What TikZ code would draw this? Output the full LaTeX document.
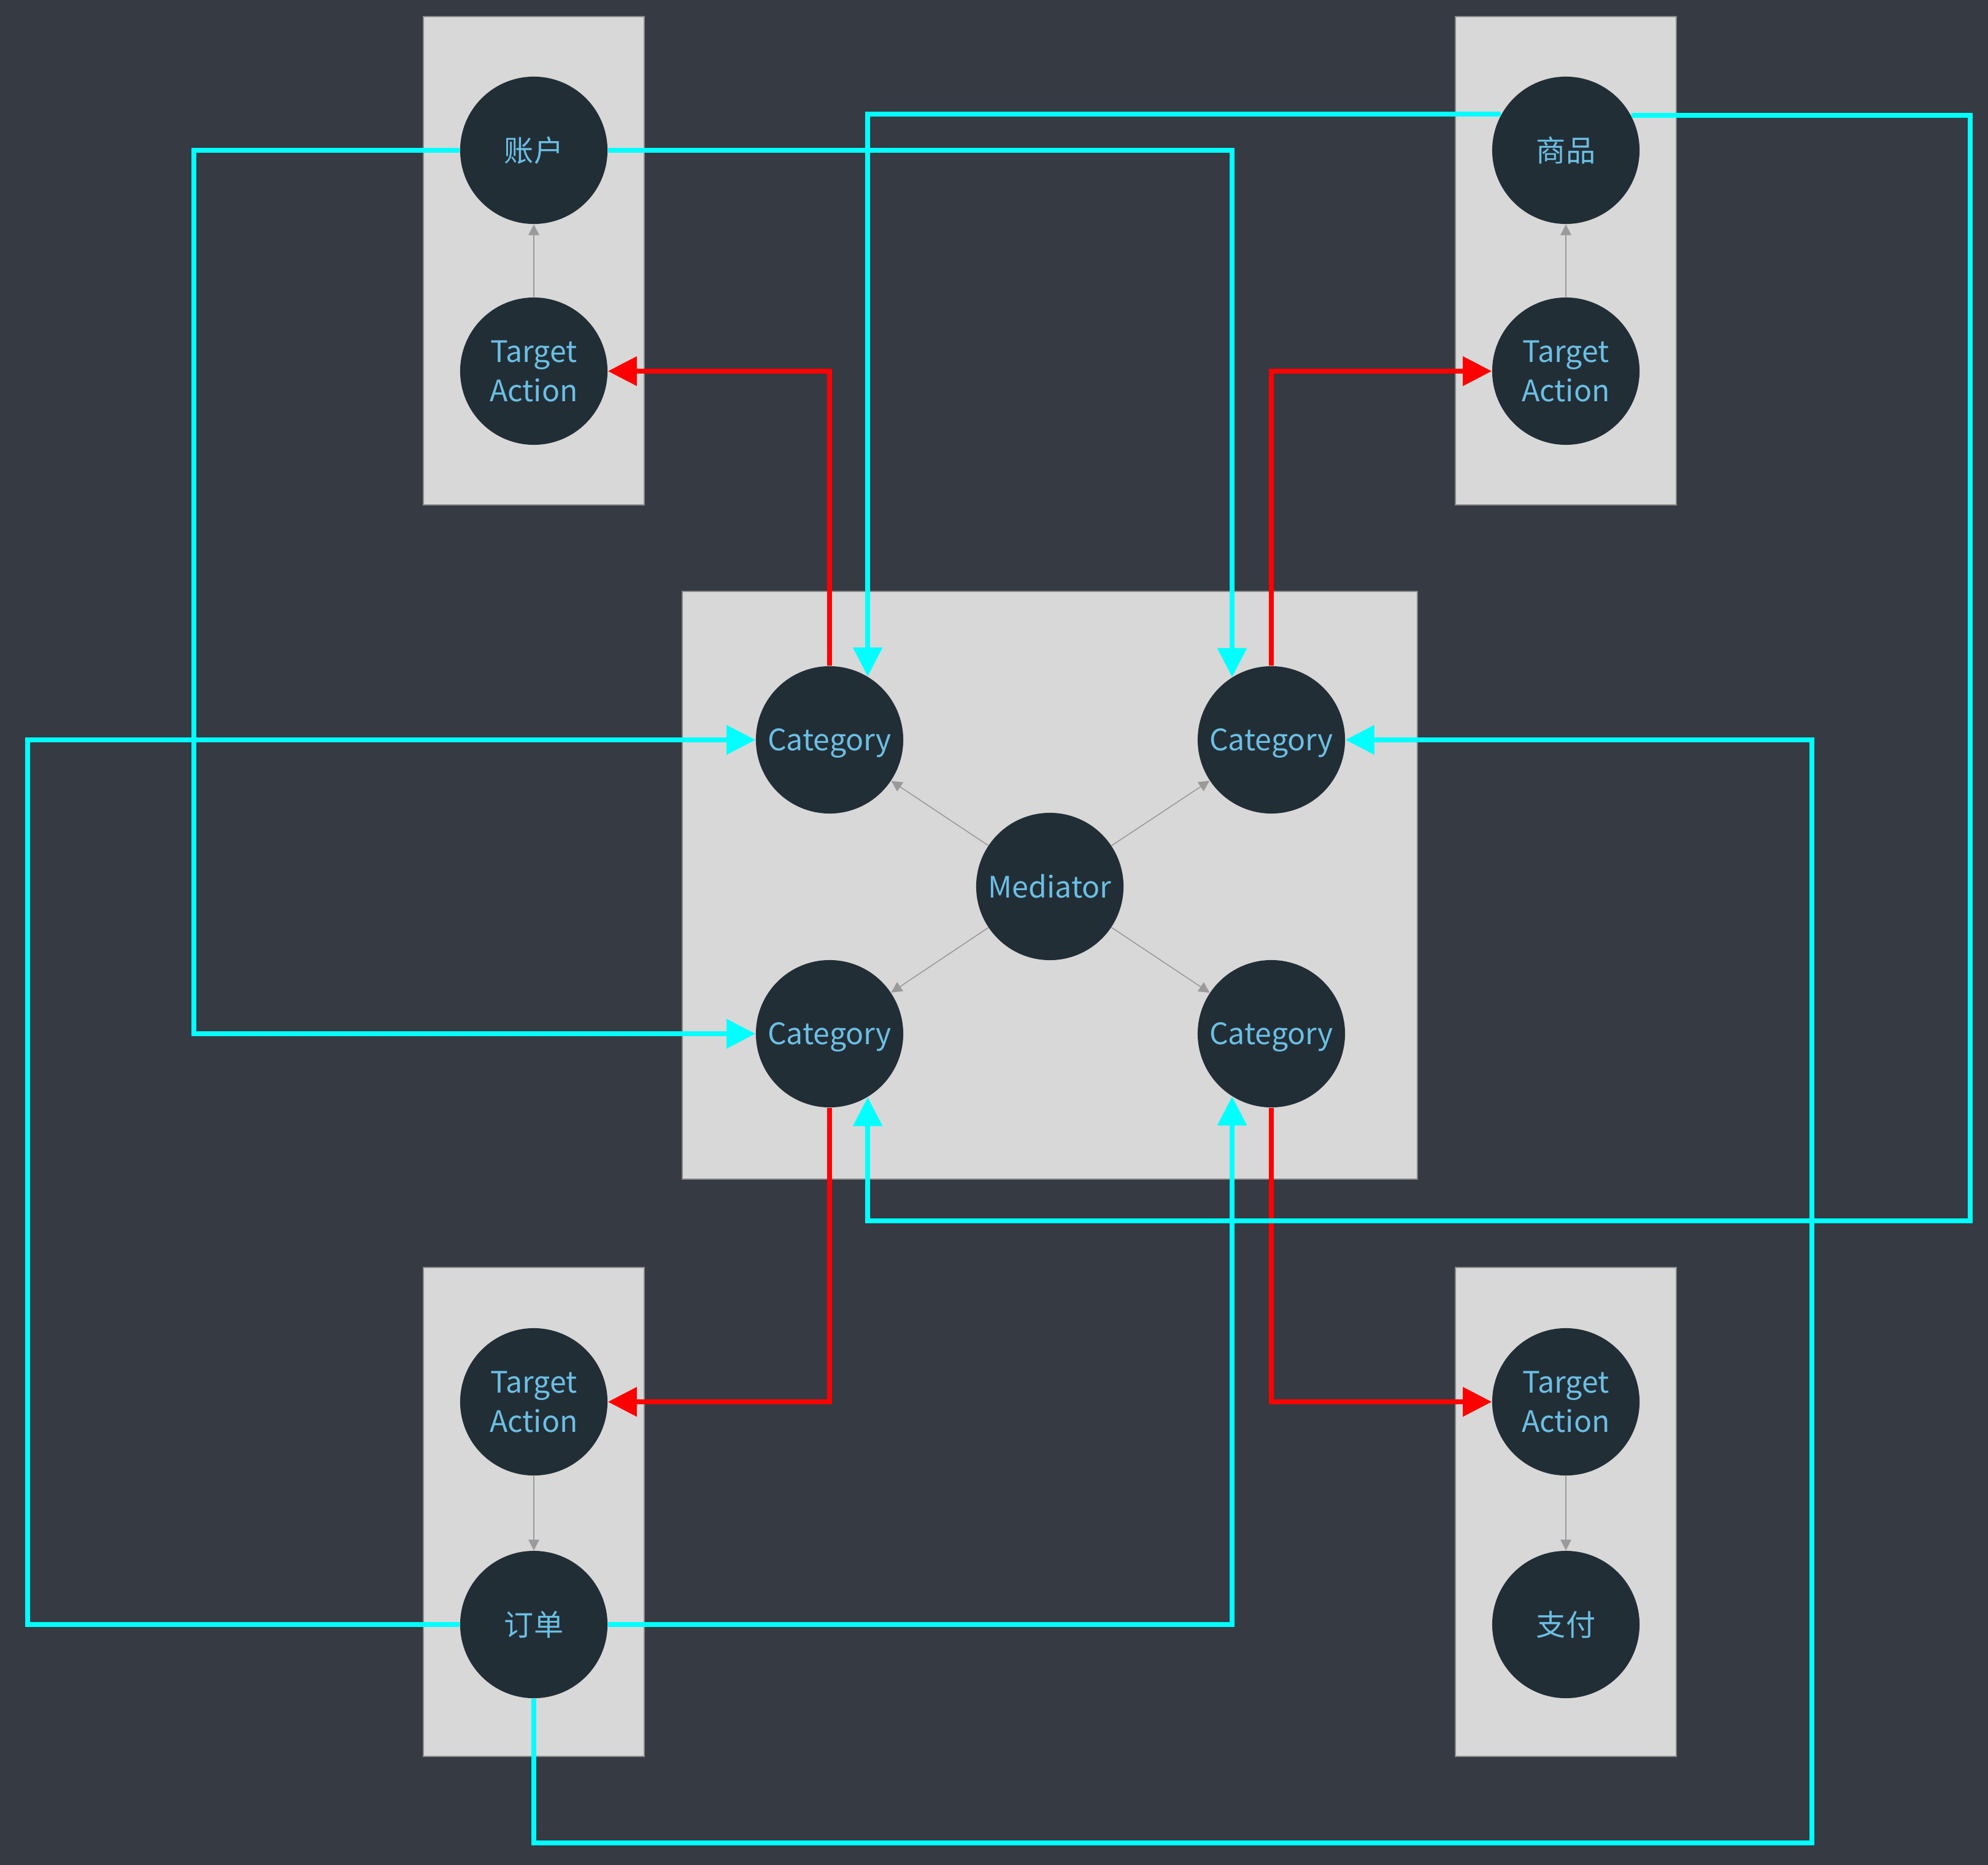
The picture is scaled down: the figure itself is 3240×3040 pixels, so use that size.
\documentclass[tikz,border=0pt]{standalone}
\usepackage{fontspec}
\setmainfont{Noto Sans CJK SC}
\usetikzlibrary{arrows.meta}
\definecolor{bgc}{HTML}{363A43}
\definecolor{boxfill}{HTML}{D8D8D8}
\definecolor{boxline}{HTML}{8A8A8A}
\definecolor{nodefill}{HTML}{222E36}
\definecolor{textblue}{HTML}{6CBFE4}
\definecolor{cyanc}{HTML}{00FFFF}
\definecolor{redc}{HTML}{FF0000}
\definecolor{grayc}{HTML}{9A9A9A}
\tikzset{
  circ/.style={circle, fill=nodefill, minimum size=2.4cm, inner sep=0pt,
    text=textblue, font=\fontsize{13.7}{18.2}\selectfont, align=center},
  catnode/.style={circ, text depth=0pt},
  groupbox/.style={fill=boxfill, draw=boxline, line width=0.6pt},
  cyanarr/.style={draw=cyanc, line width=2.28pt, -{Triangle[length=13.4pt,width=13.2pt]}},
  redarr/.style={draw=redc, line width=2.28pt, -{Triangle[length=13.4pt,width=13.2pt]}},
  grayarr/.style={draw=grayc, line width=0.45pt, -{Triangle[length=5pt,width=5pt]}}
}
\begin{document}
\begin{tikzpicture}[x=0.01cm,y=-0.01cm]
\fill[bgc] (0,0) rectangle (3240,3040);
\useasboundingbox (0,0) rectangle (3240,3040);
% group boxes
\draw[groupbox] (690,27) rectangle (1050,823);
\draw[groupbox] (2372,27) rectangle (2732,823);
\draw[groupbox] (1112,964) rectangle (2310,1922);
\draw[groupbox] (690,2066) rectangle (1050,2863);
\draw[groupbox] (2372,2066) rectangle (2732,2863);
% nodes
\node[circ] (acc) at (870,245) {账户};
\node[circ] (taTL) at (870,605) {Target\\Action};
\node[circ] (goods) at (2552,245) {商品};
\node[circ] (taTR) at (2552,605) {Target\\Action};
\node[catnode] (catTL) at (1352,1206) {Category};
\node[catnode] (catTR) at (2072,1206) {Category};
\node[circ] (med) at (1711,1445) {Mediator};
\node[catnode] (catBL) at (1352,1685) {Category};
\node[catnode] (catBR) at (2072,1685) {Category};
\node[circ] (taBL) at (870,2285) {Target\\Action};
\node[circ] (order) at (870,2648) {订单};
\node[circ] (taBR) at (2552,2285) {Target\\Action};
\node[circ] (pay) at (2552,2648) {支付};
% gray edges
\draw[grayarr] (taTL) -- (acc);
\draw[grayarr] (taTR) -- (goods);
\draw[grayarr] (taBL) -- (order);
\draw[grayarr] (taBR) -- (pay);
\draw[grayarr] (med) -- (catTL);
\draw[grayarr] (med) -- (catTR);
\draw[grayarr] (med) -- (catBL);
\draw[grayarr] (med) -- (catBR);
% red edges
\draw[redarr] (catTL.north) |- (taTL.east);
\draw[redarr] (catTR.north) |- (taTR.west);
\draw[redarr] (catBL.south) |- (taBL.east);
\draw[redarr] (catBR.south) |- (taBR.west);
% cyan edges
\draw[cyanarr] (acc.east) -| (catTR.122.2);
\draw[cyanarr] (acc.west) -| (316,1685) -- (catBL.west);
\draw[cyanarr] (goods.151.6) -| (catTL.59.4);
\draw[cyanarr] (goods.28.4) -| (3211,1990) -| (catBL.-59.4);
\draw[cyanarr] (order.west) -| (45,1206) -- (catTL.west);
\draw[cyanarr] (order.east) -| (catBR.-122.2);
\draw[cyanarr] (order.south) |- (2953,3004) |- (catTR.east);
\end{tikzpicture}
\end{document}
